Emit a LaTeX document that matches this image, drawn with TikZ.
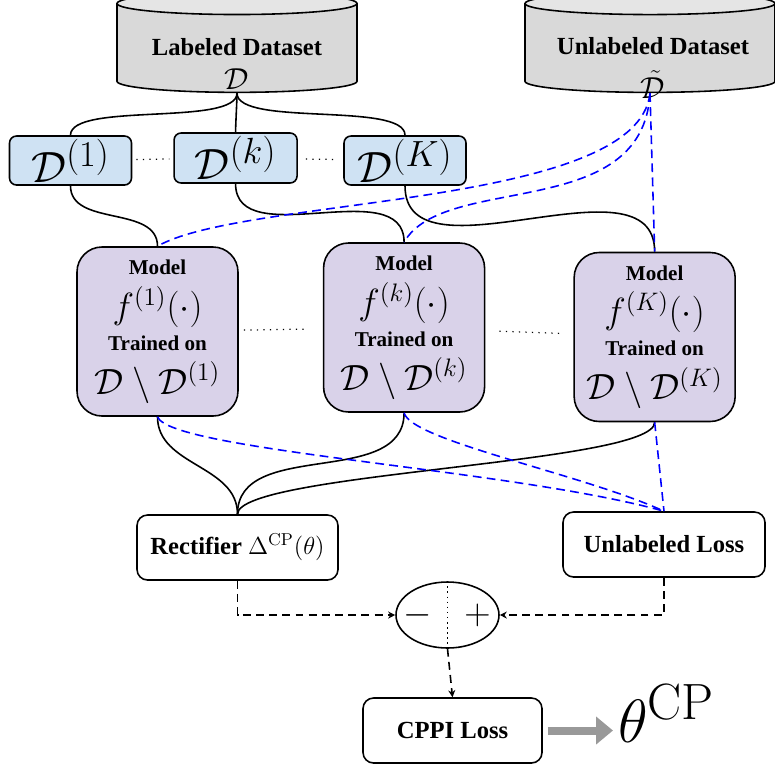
\RequirePackage{fix-cm}
\documentclass[tikz,border=0pt]{standalone}
\usepackage{amsmath,amssymb}
\usepackage[no-math]{fontspec}
\setmainfont{Liberation Serif}
\usepackage{tikz}
\usetikzlibrary{arrows.meta,positioning,calc,shapes.geometric}
\definecolor{foldblue}{HTML}{CFE2F3}
\definecolor{modelpurple}{HTML}{D9D2E9}

\begin{document}
\begin{tikzpicture}[
    >={Stealth[length=4pt,width=4pt]},
    line width=0.9pt,
    data_node/.style={cylinder, shape border rotate=90, draw, aspect=0.1,
        cylinder uses custom fill, cylinder body fill=gray!30, cylinder end fill=gray!20},
    data_text/.style={inner sep=0pt, font=\fontsize{14}{15.5}\selectfont\bfseries},
    fold_node/.style={draw, rounded corners=4pt, fill=foldblue, minimum width=2.44cm,
        minimum height=0.98cm, inner sep=1pt, font=\Huge},
    model_node/.style={draw, rounded corners=0.5cm, fill=modelpurple, minimum width=3.22cm,
        minimum height=3.38cm, align=center, font=\fontsize{12}{22}\selectfont\bfseries},
    loss_node/.style={draw, rounded corners=6pt, minimum width=4.02cm, minimum height=1.3cm,
        font=\fontsize{14}{17}\selectfont\bfseries},
    unl_edge/.style={blue, dash pattern=on 5pt off 3pt},
    agg_edge/.style={->, dash pattern=on 4.5pt off 3pt},
    dots_edge/.style={line width=0.7pt, dash pattern=on 0.7pt off 3pt}
]
\useasboundingbox (0,0) rectangle (15.5,-15.38);

% --- DATASETS ---
\node[data_node, minimum width=4.8cm, minimum height=2cm] (ld) at (4.74,-1.0) {\rule{4.2cm}{0pt}};
\node[data_text, anchor=base] (ld_title) at (4.74,-1.1) {Labeled Dataset};
\node[data_text, font=\LARGE, below=7pt of ld_title] (ld_sym) {$\mathcal{D}$};
\node[data_node, minimum width=5cm, minimum height=2cm] (ud) at (13.0,-1.0) {\rule{4.2cm}{0pt}};
\node[data_text, anchor=base] (ud_title) at (13.06,-1.08) {Unlabeled Dataset};
\node[data_text, font=\LARGE, below=8.5pt of ud_title] (ud_sym) {$\tilde{\mathcal{D}}$};

% --- FOLDS ---
\node[fold_node] (d1) at (1.41,-3.21) {$\mathcal{D}^{(1)}$};
\node[fold_node, minimum width=2.46cm, minimum height=1cm, right=0.82cm of d1, yshift=0.05cm] (dk) {$\mathcal{D}^{(k)}$};
\node[fold_node] (dK) at (8.10,-3.21) {$\mathcal{D}^{(K)}$};

% --- MODELS ---
\node[model_node] (m1) at (3.15,-6.63)
    {Model\\[3pt] {\huge$f^{(1)}(\cdot)$}\\[-4pt] Trained on\\[3pt] {\huge$\mathcal{D}\setminus\mathcal{D}^{(1)}$}};
\node[model_node, right=1.68cm of m1, yshift=0.08cm] (mk)
    {Model\\[3pt] {\huge$f^{(k)}(\cdot)$}\\[-4pt] Trained on\\[3pt] {\huge$\mathcal{D}\setminus\mathcal{D}^{(k)}$}};
\node[model_node, right=1.76cm of mk, yshift=-0.19cm] (mK)
    {Model\\[3pt] {\huge$f^{(K)}(\cdot)$}\\[-4pt] Trained on\\[3pt] {\huge$\mathcal{D}\setminus\mathcal{D}^{(K)}$}};

% --- LOSSES ---
\node[loss_node] (rect) at (4.75,-10.95) {Rectifier $\Delta^{\mathrm{CP}}(\theta)$};
\node[loss_node, minimum width=4.04cm] (ul) at (13.28,-10.89) {Unlabeled Loss};
\node[draw, ellipse, minimum width=2.06cm, minimum height=1.32cm] (pm) at (8.95,-12.3) {};
\node (pm_minus) at ($(pm.center)+(-0.6,0)$) {\huge$-$};
\node (pm_plus) at ($(pm.center)+(0.6,0)$) {\huge$+$};
\node[loss_node, minimum width=3.58cm] (cppi) at (9.05,-14.61) {CPPI Loss};
\node[font=\Huge, scale=1.4, inner sep=0pt, anchor=base west] (theta) at (12.34,-14.84) {$\theta^{\mathrm{CP}}$};

% --- EDGES ---
\foreach \f in {d1,dk,dK}
    \draw (ld.south) to[out=-90, in=90, looseness=0.5] (\f.north);
\draw[dots_edge, shorten <=0.08cm, shorten >=0.08cm] (d1) -- (dk);
\draw[dots_edge, shorten <=0.16cm, shorten >=0.12cm] (dk) -- (dK);

\draw (d1.south) to[out=-90, in=90] (m1.north);
\draw (dk.south) to[out=-90, in=90] (mk.north);
\draw (dK.south) to[out=-90, in=90] (mK.north);

\draw[unl_edge] (ud.south) .. controls +(-0.24,-2.3) and +(1.74,1.0) .. (m1.north);
\draw[unl_edge] (ud.south) .. controls +(-0.14,-2.6) and +(0.8,1.4) .. (mk.north);
\draw[unl_edge] (ud.south) -- (mK.north);

\draw[dots_edge, shorten <=0.1cm, shorten >=0.38cm] (m1) -- (mk);
\draw[dots_edge, shorten <=0.28cm, shorten >=0.24cm] (mk) -- (mK);

% models feed both losses
\draw (m1.south) to[out=-90, in=90] (rect.north);
\draw (mk.south) to[out=-90, in=90] (rect.north);
\draw (mK.south) to[out=-90, in=90, looseness=0.25] (rect.north);
\draw[unl_edge] (m1.south) .. controls +(0.26,-0.68) and +(-3.0,0.84) .. (ul.north);
\draw[unl_edge] (mk.south) .. controls +(0.14,-0.56) and +(-1.6,0.74) .. (ul.north);
\draw[unl_edge] (mK.south) -- (ul.north);

% combine
\draw[agg_edge] (rect.south) |- (pm.west);
\draw[agg_edge] (ul.south) |- (pm.east);
\draw[dotted] (pm.north) -- (pm.south);
\draw[agg_edge] (pm.south) -- (cppi.north);
\draw[-{Triangle[length=0.34cm,width=0.54cm]}, line width=0.16cm, gray!80, shorten <=0.1cm, shorten >=0.08cm] (cppi.east) -- (theta.west |- cppi.east);

\end{tikzpicture}
\end{document}
